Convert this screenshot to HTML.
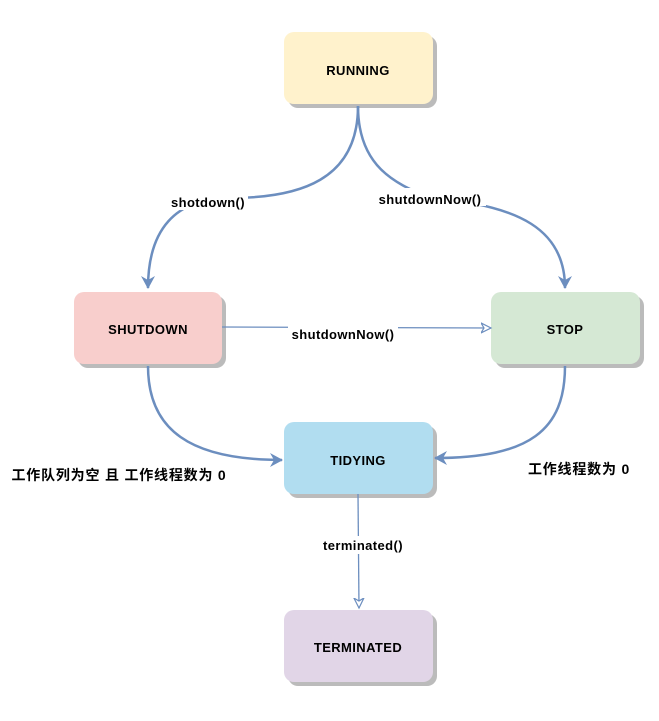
<!DOCTYPE html>
<html><head><meta charset="utf-8"><style>
body{margin:0;background:#fff;width:659px;height:716px;overflow:hidden}
svg text{font-family:"Comic Sans MS","Liberation Sans","Noto Sans CJK SC",sans-serif;font-weight:bold;font-size:13px;fill:#000;letter-spacing:0.4px}
</style></head><body>
<svg width="659" height="716" viewBox="0 0 659 716">
<defs>
<marker id="f" markerWidth="14" markerHeight="14" refX="12" refY="7" orient="auto" markerUnits="userSpaceOnUse"><path d="M0,0 L13,7 L0,14 L4,7 Z" fill="#6c8ebf"/></marker>
<marker id="o" markerWidth="12" markerHeight="12" refX="10" refY="6" orient="auto" markerUnits="userSpaceOnUse"><path d="M0,1 L10,6 L0,11 L3,6 Z" fill="#fff" stroke="#6c8ebf" stroke-width="1.2"/></marker>
</defs>
<g>
<rect x="288" y="36" width="149" height="72" rx="10" fill="#bbb"/>
<rect x="284" y="32" width="149" height="72" rx="10" fill="#fff2cc"/>
<rect x="78" y="296" width="148" height="72" rx="10" fill="#bbb"/>
<rect x="74" y="292" width="148" height="72" rx="10" fill="#f8cecc"/>
<rect x="495" y="296" width="149" height="72" rx="10" fill="#bbb"/>
<rect x="491" y="292" width="149" height="72" rx="10" fill="#d5e8d4"/>
<rect x="288" y="426" width="149" height="72" rx="10" fill="#bbb"/>
<rect x="284" y="422" width="149" height="72" rx="10" fill="#b1ddf0"/>
<rect x="288" y="614" width="149" height="72" rx="10" fill="#bbb"/>
<rect x="284" y="610" width="149" height="72" rx="10" fill="#e1d5e7"/>
</g>
<g fill="none" stroke="#6c8ebf" stroke-width="2.5">
<path d="M358,106 C358,180 300,198 230,198 C175,198 148,230 148,288" marker-end="url(#f)"/>
<path d="M358,106 C358,170 400,185 430,198 C520,205 565,230 565,288" marker-end="url(#f)"/>
<path d="M148,366 C148,430 190,460 282,460" marker-end="url(#f)"/>
<path d="M565,366 C565,430 530,458 435,458" marker-end="url(#f)"/>
</g>
<g fill="none" stroke="#6c8ebf" stroke-width="1.3">
<path d="M222,327 L491,328" marker-end="url(#o)"/>
<path d="M358,494 L359,608" marker-end="url(#o)"/>
</g>
<rect x="168" y="192" width="80" height="18" fill="#fff"/>
<rect x="374" y="188" width="112" height="18" fill="#fff"/>
<rect x="288" y="324" width="110" height="18" fill="#fff"/>
<rect x="317" y="536" width="92" height="18" fill="#fff"/>
<g text-anchor="middle">
<text x="358" y="75">RUNNING</text>
<text x="148" y="334">SHUTDOWN</text>
<text x="565" y="334">STOP</text>
<text x="358" y="465">TIDYING</text>
<text x="358" y="652">TERMINATED</text>
<text x="208" y="207">shotdown()</text>
<text x="430" y="204">shutdownNow()</text>
<text x="343" y="339">shutdownNow()</text>
<text x="363" y="550">terminated()</text>
<text x="119" y="480" style="font-size:14px;letter-spacing:0.8px">工作队列为空 且 工作线程数为 0</text>
<text x="579" y="474" style="font-size:14px;letter-spacing:0.8px">工作线程数为 0</text>
</g>
</svg>
</body></html>
